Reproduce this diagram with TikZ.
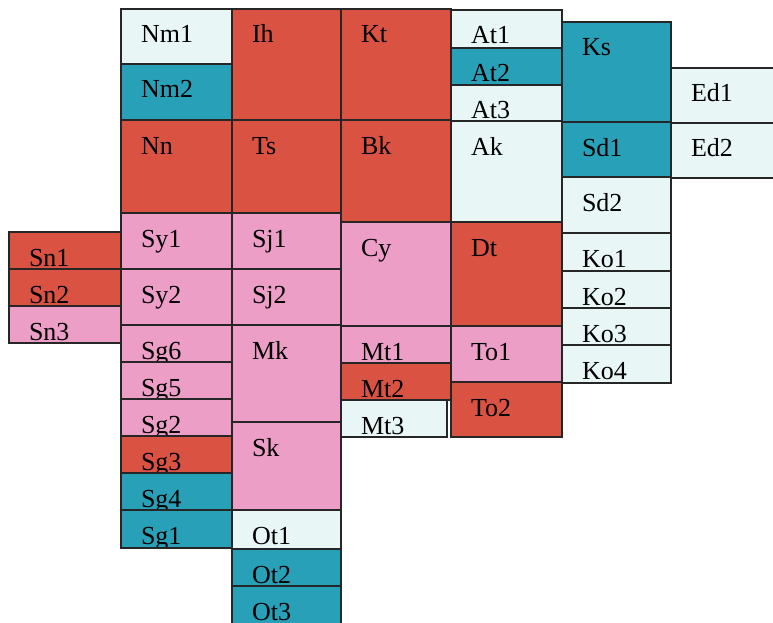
\documentclass[tikz,border=0pt]{standalone}
\usepackage{fontspec}
\setmainfont{Liberation Serif}
\definecolor{rd}{RGB}{218,82,66}
\definecolor{tl}{RGB}{40,160,184}
\definecolor{pk}{RGB}{236,158,198}
\definecolor{pl}{RGB}{232,246,246}

\begin{document}
\begin{tikzpicture}[x=1pt, y=-1pt, font=\fontsize{26}{30}\selectfont,
  c/.style={draw=black!85, line width=1.2pt, inner sep=0pt, outer sep=0pt},
  box/.style args={#1/#2/#3/#4}{anchor=north west, at={(#1,#2)},
    minimum width={(#3-#1)*1pt}, minimum height={(#4-#2)*1pt}},
  lab/.style={path picture={\node[anchor=base west, inner sep=0pt, minimum size=0pt]
    at ([shift={(20pt,-34pt)}]path picture bounding box.north west) {#1};}}]
  \useasboundingbox (0,0) rectangle (773,623);
  % left strip
  \node[c, fill=rd, box=9/232/121/269, lab=Sn1] (sn1) {};
  \node[c, fill=rd, box=9/269/121/306, lab=Sn2] (sn2) {};
  \node[c, fill=pk, box=9/306/121/343, lab=Sn3] (sn3) {};
  % first column
  \node[c, fill=pl, box=121/9/232/64, lab=Nm1] (nm1) {};
  \node[c, fill=tl, box=121/64/232/120, lab=Nm2] (nm2) {};
  \node[c, fill=rd, box=121/120/232/213, lab=Nn] (nn) {};
  \node[c, fill=pk, box=121/213/232/269, lab=Sy1] (sy1) {};
  \node[c, fill=pk, box=121/269/232/325, lab=Sy2] (sy2) {};
  \node[c, fill=pk, box=121/325/232/362, lab=Sg6] (sg6) {};
  \node[c, fill=pk, box=121/362/232/399, lab=Sg5] (sg5) {};
  \node[c, fill=pk, box=121/399/232/436, lab=Sg2] (sg2) {};
  \node[c, fill=rd, box=121/436/232/473, lab=Sg3] (sg3) {};
  \node[c, fill=tl, box=121/473/232/510, lab=Sg4] (sg4) {};
  \node[c, fill=tl, box=121/510/232/548, lab=Sg1] (sg1) {};
  % second column
  \node[c, fill=rd, box=232/9/341/120, lab=Ih] (ih) {};
  \node[c, fill=rd, box=232/120/341/213, lab=Ts] (ts) {};
  \node[c, fill=pk, box=232/213/341/269, lab=Sj1] (sj1) {};
  \node[c, fill=pk, box=232/269/341/325, lab=Sj2] (sj2) {};
  \node[c, fill=pk, box=232/325/341/422, lab=Mk] (mk) {};
  \node[c, fill=pk, box=232/422/341/510, lab=Sk] (sk) {};
  \node[c, fill=pl, box=232/510/341/549, lab=Ot1] (ot1) {};
  \node[c, fill=tl, box=232/549/341/586, lab=Ot2] (ot2) {};
  \node[c, fill=tl, box=232/586/341/630, lab=Ot3] (ot3) {};
  % third column
  \node[c, fill=rd, box=341/9/451/120, lab=Kt] (kt) {};
  \node[c, fill=rd, box=341/120/451/222, lab=Bk] (bk) {};
  \node[c, fill=pk, box=341/222/451/326, lab=Cy] (cy) {};
  \node[c, fill=pk, box=341/326/451/363, lab=Mt1] (mt1) {};
  \node[c, fill=rd, box=341/363/451/400, lab=Mt2] (mt2) {};
  \node[c, fill=pl, box=341/400/447/437, lab=Mt3] (mt3) {};
  % fourth column
  \node[c, fill=pl, box=451/10/562/48, lab=At1] (at1) {};
  \node[c, fill=tl, box=451/48/562/85, lab=At2] (at2) {};
  \node[c, fill=pl, box=451/85/562/121, lab=At3] (at3) {};
  \node[c, fill=pl, box=451/121/562/222, lab=Ak] (ak) {};
  \node[c, fill=rd, box=451/222/562/326, lab=Dt] (dt) {};
  \node[c, fill=pk, box=451/326/562/382, lab=To1] (to1) {};
  \node[c, fill=rd, box=451/382/562/437, lab=To2] (to2) {};
  % fifth column
  \node[c, fill=tl, box=562/22/671/122, lab=Ks] (ks) {};
  \node[c, fill=tl, box=562/122/671/177, lab=Sd1] (sd1) {};
  \node[c, fill=pl, box=562/177/671/233, lab=Sd2] (sd2) {};
  \node[c, fill=pl, box=562/233/671/271, lab=Ko1] (ko1) {};
  \node[c, fill=pl, box=562/271/671/308, lab=Ko2] (ko2) {};
  \node[c, fill=pl, box=562/308/671/345, lab=Ko3] (ko3) {};
  \node[c, fill=pl, box=562/345/671/383, lab=Ko4] (ko4) {};
  % right edge
  \node[c, fill=pl, box=671/68/780/123, lab=Ed1] (ed1) {};
  \node[c, fill=pl, box=671/123/780/178, lab=Ed2] (ed2) {};
\end{tikzpicture}
\end{document}
